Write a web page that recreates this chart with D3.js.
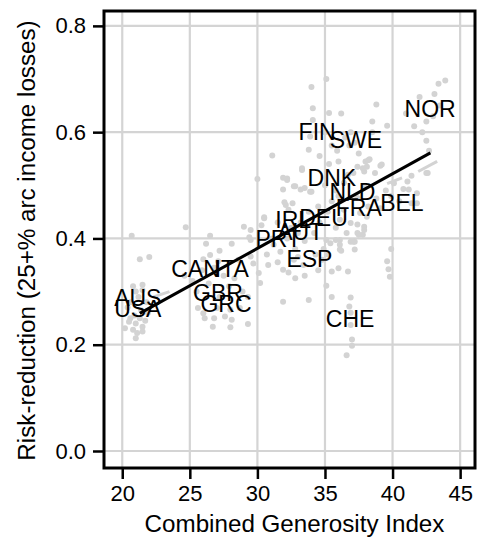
<!DOCTYPE html>
<html>
<head>
  <title>Generosity vs risk reduction</title>
  <script src='https://d3js.org/d3.v7.min.js'></script>
  <style>
    body { margin: 0; background: #fff; }
    text { font-family: 'Liberation Sans', Arial, sans-serif; }
  </style>
</head>
<body>
  <script>
// Sizes of the SVG and the plotting panel
var width = 477,
    height = 540;
var panel = { left: 104, right: 475, top: 11, bottom: 468 };

// Country-year observations (generosity index, risk reduction)
var cgi = [
  20.7, 21.3, 22.0, 20.8, 21.5, 21.0, 21.5, 21.2, 20.6, 21.8, 20.4, 21.4, 20.5, 21.0, 21.5, 20.8, 21.1, 21.5, 21.0, 20.2, 20.6, 21.3, 21.9, 20.9, 21.7,
  24.7, 26.5, 26.2, 27.2, 28.1, 29.5, 29.4, 26.5, 26.0, 27.1, 28.6, 29.5, 29.7, 30.1, 30.2, 25.9, 26.8, 27.5, 28.3, 26.4, 27.9, 28.9, 29.3, 25.6, 26.0,
  27.0, 28.0, 28.7, 26.1, 26.8, 27.6, 28.1, 26.7, 28.0, 29.3, 25.5, 27.2, 24.6, 25.2,
  31.1, 30.0, 32.2, 31.9, 32.0, 32.1, 30.5, 31.9, 32.8, 33.5, 34.0, 32.6, 32.3, 30.5, 29.0, 29.5, 31.1, 31.2, 30.3, 31.5, 32.5, 33.2, 33.0, 32.2, 31.7,
  30.7, 32.8, 33.5, 34.2, 34.6, 33.8, 34.5, 31.9, 32.3, 31.9, 33.8, 32.7, 33.4, 34.3, 30.8, 31.5, 32.8, 33.5,
  34.0, 35.1, 34.1, 35.3, 36.2, 34.1, 33.9, 33.8, 33.3, 35.0, 35.5, 34.6, 36.0, 35.3,
  38.0, 38.3, 38.1, 39.1, 37.9, 38.7, 37.4, 37.1, 36.7, 33.3, 32.2, 32.7, 33.2, 33.9, 35.0, 35.8, 36.4, 37.9, 37.4, 38.2, 36.4, 37.6, 38.1, 39.1, 36.1,
  36.9, 37.4, 37.9, 36.6, 37.4, 35.5, 36.0, 35.2, 35.8, 38.8, 39.5, 38.5, 38.8, 38.5, 39.6, 39.2, 38.2, 37.8, 37.5, 36.8, 36.5, 36.9, 35.9, 37.2,
  43.9, 43.4, 43.1, 42.0, 41.6, 42.5, 42.7, 42.6, 41.4, 40.8, 40.1, 41.1, 41.2, 41.8, 42.5, 41.4, 41.8, 40.5, 39.9, 43.0, 42.2, 43.5, 41.0, 42.5,
  36.1, 36.9, 37.5, 37.9, 37.2, 35.8, 36.1, 35.4, 35.1, 36.2, 37.2, 37.8, 39.9, 39.6, 39.7, 39.8, 37.1, 36.1, 36.0, 36.7, 35.5, 35.1, 35.5, 36.9, 36.8,
  36.9, 37.0, 37.0, 36.6, 36.9, 34.8, 34.5, 33.0, 35.2, 34.9
];
var riskReduction = [
  0.405, 0.361, 0.365, 0.310, 0.313, 0.300, 0.303, 0.290, 0.280, 0.280, 0.270, 0.265, 0.243, 0.240, 0.234, 0.228, 0.222, 0.225, 0.212, 0.231, 0.250, 0.250, 0.260, 0.255, 0.245,
  0.421, 0.405, 0.390, 0.377, 0.390, 0.397, 0.402, 0.369, 0.361, 0.357, 0.360, 0.366, 0.353, 0.335, 0.316, 0.340, 0.345, 0.330, 0.325, 0.315, 0.310, 0.300, 0.290, 0.269, 0.259,
  0.269, 0.266, 0.269, 0.250, 0.250, 0.253, 0.247, 0.234, 0.233, 0.239, 0.300, 0.290, 0.330, 0.320,
  0.556, 0.512, 0.513, 0.492, 0.468, 0.463, 0.440, 0.514, 0.498, 0.495, 0.488, 0.466, 0.454, 0.438, 0.422, 0.416, 0.400, 0.388, 0.425, 0.430, 0.420, 0.430, 0.410, 0.400, 0.375,
  0.370, 0.380, 0.395, 0.410, 0.430, 0.450, 0.460, 0.341, 0.336, 0.281, 0.284, 0.360, 0.350, 0.370, 0.350, 0.355, 0.325, 0.330,
  0.685, 0.700, 0.645, 0.636, 0.635, 0.623, 0.592, 0.567, 0.529, 0.600, 0.575, 0.555, 0.545, 0.540,
  0.545, 0.549, 0.535, 0.537, 0.526, 0.523, 0.535, 0.523, 0.520, 0.532, 0.510, 0.498, 0.492, 0.488, 0.500, 0.490, 0.505, 0.498, 0.476, 0.460, 0.454, 0.448, 0.441, 0.457, 0.435,
  0.429, 0.426, 0.422, 0.410, 0.410, 0.470, 0.480, 0.450, 0.420, 0.475, 0.490, 0.600, 0.652, 0.620, 0.612, 0.539, 0.547, 0.532, 0.560, 0.575, 0.590, 0.600, 0.565, 0.580,
  0.697, 0.691, 0.672, 0.666, 0.611, 0.584, 0.565, 0.523, 0.518, 0.493, 0.504, 0.507, 0.492, 0.485, 0.523, 0.466, 0.466, 0.470, 0.480, 0.630, 0.600, 0.650, 0.635, 0.620,
  0.397, 0.394, 0.407, 0.416, 0.379, 0.397, 0.388, 0.391, 0.397, 0.377, 0.394, 0.407, 0.380, 0.357, 0.342, 0.328, 0.394, 0.379, 0.344, 0.338, 0.338, 0.311, 0.290, 0.289, 0.272,
  0.237, 0.210, 0.198, 0.180, 0.260, 0.360, 0.340, 0.365, 0.370, 0.380
];

// Country labels and where they sit
var countries = ['NOR', 'FIN', 'SWE', 'DNK', 'NLD', 'FRA', 'BEL', 'DEU', 'IRL', 'AUT', 'PRT', 'ESP', 'CHE', 'CAN', 'ITA', 'GBR', 'GRC', 'AUS', 'USA'];
var labelX = [42.78, 34.42, 37.29, 35.51, 37.03, 37.5, 40.69, 34.89, 32.65, 33.17, 31.54, 33.85, 36.86, 25.42, 28.1, 27.08, 27.68, 21.15, 21.15];
var labelY = [0.644, 0.601, 0.585, 0.5135, 0.487, 0.458, 0.468, 0.439, 0.435, 0.412, 0.400, 0.3616, 0.249, 0.343, 0.343, 0.297, 0.2765, 0.289, 0.267];

// Pooled fit line (end points) and a few within-country fits
var fitX = [21.3, 42.8],
    fitY = [0.259, 0.561];
var subFitX = [[41.9, 43.3], [39.6, 40.7], [22.3, 23.5]],
    subFitY = [[0.526, 0.545], [0.503, 0.514], [0.290, 0.300]];

// Ticks
var xTicks = [20, 25, 30, 35, 40, 45];
var yTicks = [0.0, 0.2, 0.4, 0.6, 0.8];

var svg = d3.select('body')
  .append('svg')
  .attr('width', width)
  .attr('height', height);

var x = d3.scaleLinear()
    .domain([18.65, 46.1])
    .range([panel.left, panel.right]);

var y = d3.scaleLinear()
    .domain([-0.032, 0.828])
    .range([panel.bottom, panel.top]);

// Grid lines
var grid = svg.append('g');
grid.selectAll('line.vx')
  .data(xTicks)
  .enter()
  .append('line')
  .attr('x1', d => x(d)).attr('x2', d => x(d))
  .attr('y1', panel.top).attr('y2', panel.bottom)
  .attr('stroke', '#d4d4d4')
  .attr('stroke-width', 2.2);
grid.selectAll('line.hy')
  .data(yTicks)
  .enter()
  .append('line')
  .attr('y1', d => y(d)).attr('y2', d => y(d))
  .attr('x1', panel.left).attr('x2', panel.right)
  .attr('stroke', '#d4d4d4')
  .attr('stroke-width', 2.2);

// Points
svg.append('g')
  .selectAll('circle')
  .data(cgi.map((v, i) => [v, riskReduction[i]]))
  .enter()
  .append('circle')
  .attr('cx', d => x(d[0]))
  .attr('cy', d => y(d[1]))
  .attr('r', 3)
  .attr('fill', '#d3d3d3');

// Within-country fits (grey) and pooled fit (black)
var line = d3.line().x(d => x(d[0])).y(d => y(d[1]));
svg.append('g')
  .selectAll('path')
  .data(subFitX.map((xs, i) => xs.map((v, j) => [v, subFitY[i][j]])))
  .enter()
  .append('path')
  .attr('d', line)
  .attr('fill', 'none')
  .attr('stroke', '#d3d3d3')
  .attr('stroke-width', 3);

svg.append('path')
  .datum(fitX.map((v, i) => [v, fitY[i]]))
  .attr('d', line)
  .attr('fill', 'none')
  .attr('stroke', '#000')
  .attr('stroke-width', 3);

// Labels
svg.append('g')
  .selectAll('text')
  .data(countries)
  .enter()
  .append('text')
  .attr('x', (d, i) => x(labelX[i]))
  .attr('y', (d, i) => y(labelY[i]))
  .attr('text-anchor', 'middle')
  .attr('dy', '0.36em')
  .attr('font-size', 23)
  .attr('fill', '#000')
  .text(d => d);

// Axes
var xAxis = svg.append('g')
  .attr('transform', 'translate(0,' + panel.bottom + ')')
  .call(d3.axisBottom(x).tickValues(xTicks).tickSize(11).tickPadding(6).tickFormat(d3.format('d')));
var yAxis = svg.append('g')
  .attr('transform', 'translate(' + panel.left + ',0)')
  .call(d3.axisLeft(y).tickValues(yTicks).tickSize(11).tickPadding(7).tickFormat(d3.format('.1f')));
[xAxis, yAxis].forEach(function(a) {
  a.select('.domain').remove();
  a.selectAll('.tick line').attr('stroke', '#000').attr('stroke-width', 2.5);
  a.selectAll('.tick text').attr('font-size', 22).attr('fill', '#000')
    .style('font-family', "'Liberation Sans', Arial, sans-serif");
});

// Panel border
svg.append('rect')
  .attr('x', panel.left)
  .attr('y', panel.top)
  .attr('width', panel.right - panel.left)
  .attr('height', panel.bottom - panel.top)
  .attr('fill', 'none')
  .attr('stroke', '#000')
  .attr('stroke-width', 3);

// Axis titles
svg.append('text')
  .attr('x', (panel.left + panel.right) / 2 + 5)
  .attr('y', 532)
  .attr('text-anchor', 'middle')
  .attr('font-size', 24.2)
  .text('Combined Generosity Index');

svg.append('text')
  .attr('transform', 'translate(35,' + ((panel.top + panel.bottom) / 2 + 1) + ') rotate(-90)')
  .attr('text-anchor', 'middle')
  .attr('font-size', 24.2)
  .text('Risk-reduction (25+% arc income losses)');
  </script>
</body>
</html>
